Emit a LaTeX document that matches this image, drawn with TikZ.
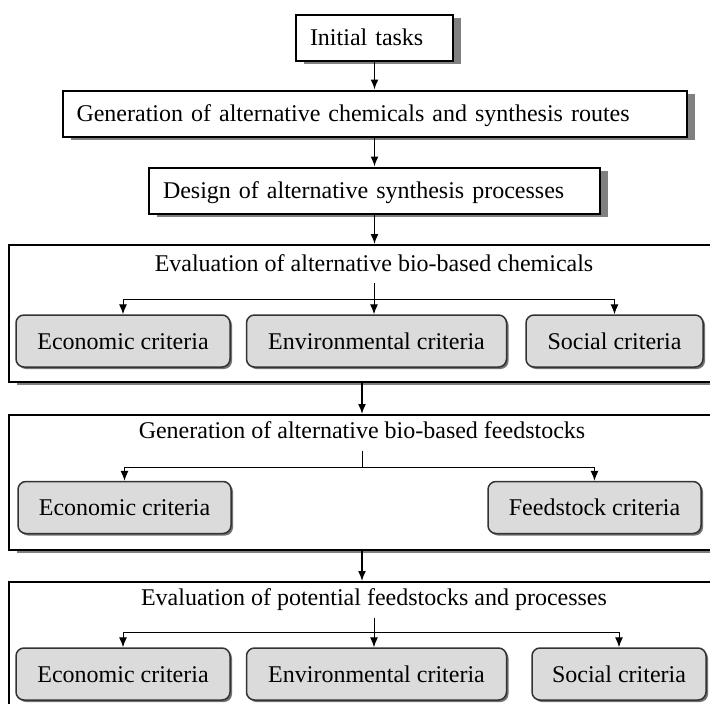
\documentclass[tikz,border=0pt]{standalone}
\usepackage{fontspec}
\setmainfont{Liberation Serif}
\usetikzlibrary{shadows,arrows.meta,positioning}
\tikzstyle{task}=[rectangle,draw=black,line width=2pt,fill=white,align=left,
inner xsep=14pt,text height=16pt,text depth=0pt,minimum height=46pt,
drop shadow={shadow xshift=8pt,shadow yshift=-3pt,fill=black!50,opacity=1}]
\tikzstyle{stage}=[rectangle,draw=black,line width=2pt,fill=white,
drop shadow={shadow xshift=8pt,shadow yshift=-3pt,fill=black!50,opacity=1}]
\tikzstyle{heading}=[inner sep=12pt,text height=16pt,text depth=0pt]
\tikzstyle{criterion}=[rectangle,rounded corners=8pt,draw=black!80,line width=1.5pt,
fill=black!14,minimum height=52pt,text height=16pt,text depth=0pt,
drop shadow={shadow xshift=2pt,shadow yshift=-2pt,fill=black!55,opacity=1}]
\tikzstyle{flow}=[->,line width=1.5pt]
\tikzstyle{branch}=[line width=1pt]

\begin{document}
\begin{tikzpicture}[x=1pt,y=-1pt,>={Latex[length=10pt,width=8pt]},font=\fontsize{24}{28}\selectfont]
    \clip (0,0) rectangle (710,704);

    \node[task,text width=129pt] (init) at (374.5,37.5) {Initial tasks};
    \node[task,text width=596pt] (gen_routes) [below=28pt of init] {Generation of alternative chemicals and synthesis routes};
    \node[task,text width=423pt] (design) [below=29pt of gen_routes] {Design of alternative synthesis processes};

    \node[stage,minimum width=731pt,minimum height=137pt] (eval_chem) [below=29.5pt of design] {};
    \node[stage,minimum width=731pt,minimum height=135pt] (feed_gen) [below=31pt of eval_chem] {};
    \node[stage,minimum width=731pt,minimum height=168pt] (eval_proc) [below=30pt of feed_gen] {};

    \node[heading] (chem_title) at (374,263) {Evaluation of alternative bio-based chemicals};
    \node[heading] (feed_title) at (362,430.5) {Generation of alternative bio-based feedstocks};
    \node[heading] (proc_title) at (374,597.5) {Evaluation of potential feedstocks and processes};

    \coordinate (chem_split) at (374,299);
    \coordinate (feed_split) at (362,467);
    \coordinate (proc_split) at (374,632);

    \node[criterion,minimum width=214pt] (eco_chem) at (123,341) {Economic criteria};
    \node[criterion,minimum width=260pt] (env_chem) [right=15pt of eco_chem] {Environmental criteria};
    \node[criterion,minimum width=177pt] (soc_chem) [right=18pt of env_chem] {Social criteria};

    \node[criterion,minimum width=213pt] (eco_feed) at (124.5,507.5) {Economic criteria};
    \node[criterion,minimum width=213pt] (stock_feed) at (594.5,507.5) {Feedstock criteria};

    \node[criterion,minimum width=214pt] (eco_proc) at (123,674) {Economic criteria};
    \node[criterion,minimum width=260pt] (env_proc) [right=15pt of eco_proc] {Environmental criteria};
    \node[criterion,minimum width=174pt] (soc_proc) [right=24pt of env_proc] {Social criteria};

    \draw[flow] (init) -- (gen_routes);
    \draw[flow] (gen_routes) -- (design);
    \draw[flow] (design) -- (eval_chem);
    \draw[flow] (eval_chem.south -| feed_title) -- (feed_gen.north -| feed_title);
    \draw[flow] (feed_gen.south -| feed_title) -- (eval_proc.north -| feed_title);

    \draw[branch,->] (chem_title.south) -- (chem_title.south |- env_chem.north);
    \draw[branch,->] (chem_split) -| (eco_chem.north);
    \draw[branch,->] (chem_split) -| (soc_chem.north);

    \draw[branch] (feed_title.south) -- (feed_split);
    \draw[branch,->] (feed_split) -| (eco_feed.north);
    \draw[branch,->] (feed_split) -| (stock_feed.north);

    \draw[branch,->] (proc_title.south) -- (proc_title.south |- env_proc.north);
    \draw[branch,->] (proc_split) -| (eco_proc.north);
    \draw[branch,->] (proc_split) -| (soc_proc.north);
\end{tikzpicture}
\end{document}
